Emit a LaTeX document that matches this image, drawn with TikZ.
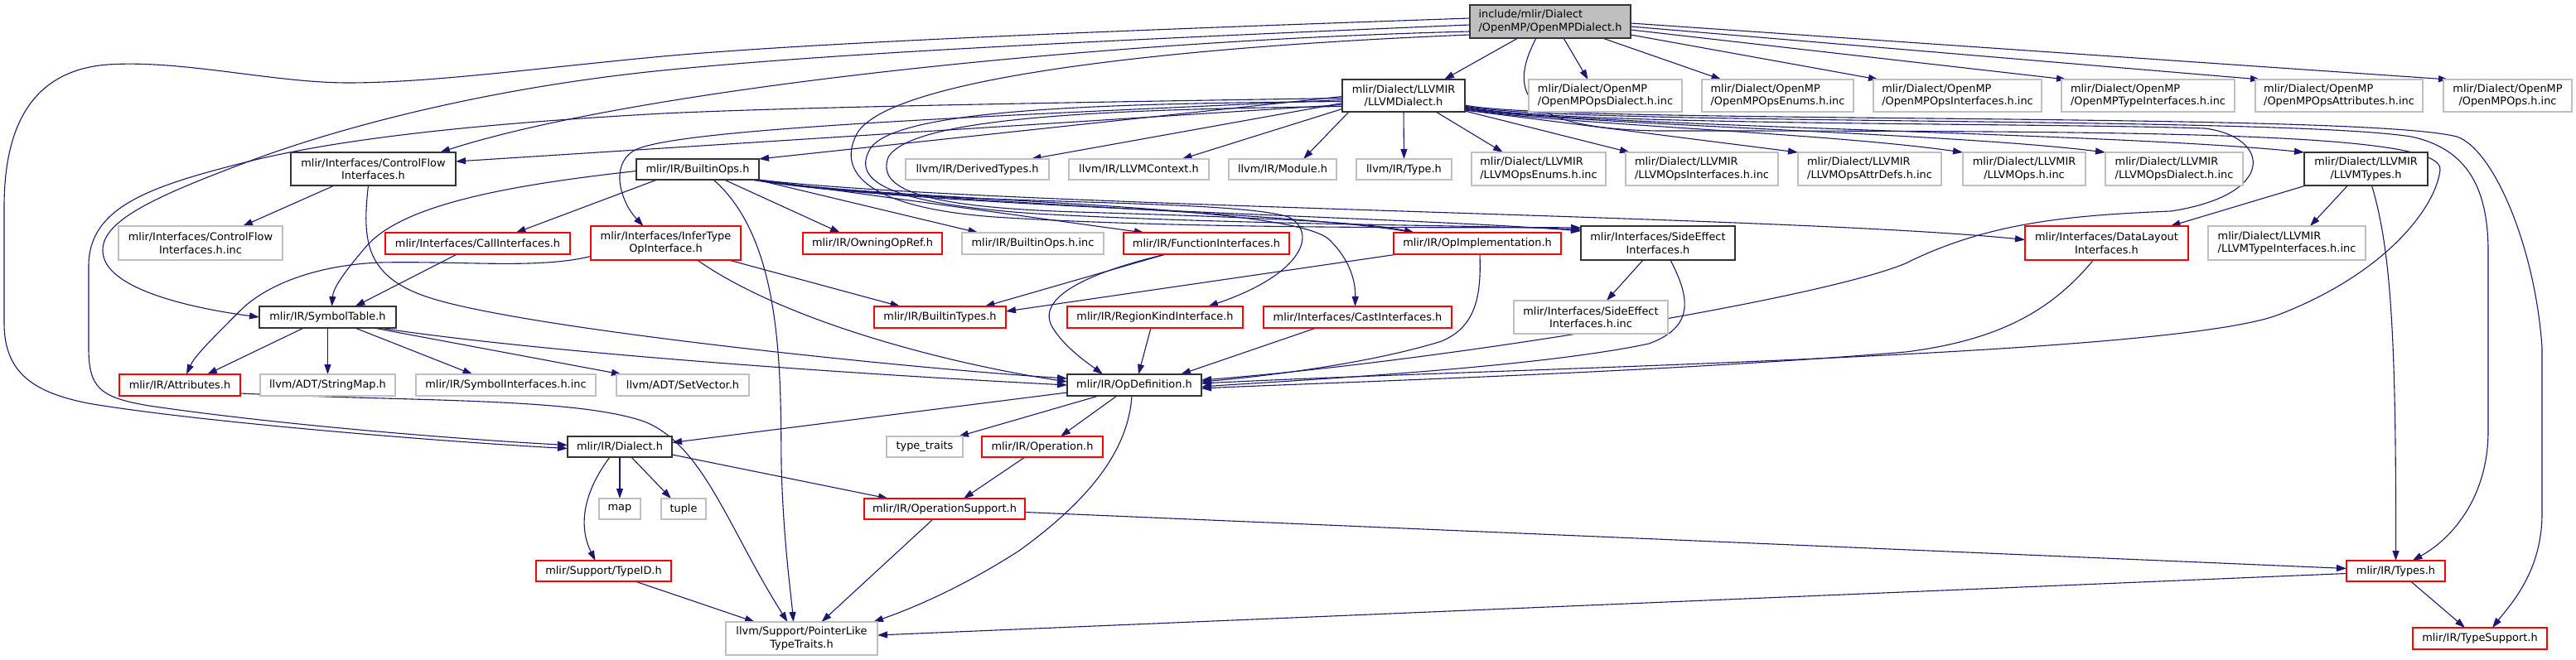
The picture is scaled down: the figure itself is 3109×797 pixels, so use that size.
\documentclass[tikz,border=0pt]{standalone}
\usepackage{fontspec}
\setmainfont{DejaVu Sans}
\usetikzlibrary{arrows.meta,calc,backgrounds}
\definecolor{edgecol}{HTML}{191970}
\definecolor{grayb}{HTML}{BFBFBF}
\definecolor{redb}{HTML}{FF0000}
\definecolor{blackb}{HTML}{333333}
\begin{document}
\begin{tikzpicture}[x=1pt,y=-1pt,
  box/.style={rectangle, inner sep=0pt, outer sep=0pt, fill=white, line width=1.2pt, font=\fontsize{12.9}{15.5}\selectfont},
  nbox/.style={box, draw=blackb, line width=1.1pt},
  gbox/.style={box, draw=grayb},
  rbox/.style={box, draw=redb},
  bw/.style={minimum width=#1pt},
  bh/.style={minimum height=#1pt},
  dep/.style={draw=edgecol, line width=1.1pt, -{Triangle[length=12pt,width=8pt]}},
]
\useasboundingbox (0,0) rectangle (3109,797);
% ---------- nodes ----------
\node[nbox, fill=grayb, bw=194, bh=40, align=left] (root) at (1871,26) {include/mlir/Dialect\\/OpenMP/OpenMPDialect.h};
\node[nbox, bw=148, bh=39, align=center] (llvmdialect) at (1694,115.5) {mlir/Dialect/LLVMIR\\/LLVMDialect.h};
\node[gbox, bw=185, bh=39, align=left] (ompdialectinc) at (1937.5,115.5) {mlir/Dialect/OpenMP\\/OpenMPOpsDialect.h.inc};
\node[gbox, bw=183, bh=39, align=left] (ompenums) at (2145.5,115.5) {mlir/Dialect/OpenMP\\/OpenMPOpsEnums.h.inc};
\node[gbox, bw=203, bh=39, align=left] (ompifaces) at (2362.5,115.5) {mlir/Dialect/OpenMP\\/OpenMPOpsInterfaces.h.inc};
\node[gbox, bw=209, bh=39, align=left] (omptypeifaces) at (2592.5,115.5) {mlir/Dialect/OpenMP\\/OpenMPTypeInterfaces.h.inc};
\node[gbox, bw=202, bh=39, align=left] (ompattrs) at (2823,115.5) {mlir/Dialect/OpenMP\\/OpenMPOpsAttributes.h.inc};
\node[gbox, bw=155, bh=39, align=center] (ompops) at (3026.5,115.5) {mlir/Dialect/OpenMP\\/OpenMPOps.h.inc};

\node[nbox, bw=199, bh=40, align=center] (cflow) at (450.5,204) {mlir/Interfaces/ControlFlow\\Interfaces.h};
\node[nbox, bw=148, bh=25] (builtinops) at (842,204.5) {mlir/IR/BuiltinOps.h};
\node[gbox, bw=173, bh=25] (derivedtypes) at (1179.5,204.5) {llvm/IR/DerivedTypes.h};
\node[gbox, bw=169, bh=25] (llvmcontext) at (1374.5,204.5) {llvm/IR/LLVMContext.h};
\node[gbox, bw=130, bh=25] (module) at (1548,204.5) {llvm/IR/Module.h};
\node[gbox, bw=115, bh=25] (type) at (1694.5,204.5) {llvm/IR/Type.h};
\node[gbox, bw=162, bh=40, align=left] (llvmopsenums) at (1857,204) {mlir/Dialect/LLVMIR\\/LLVMOpsEnums.h.inc};
\node[gbox, bw=184, bh=40, align=left] (llvmopsifaces) at (2054,204) {mlir/Dialect/LLVMIR\\/LLVMOpsInterfaces.h.inc};
\node[gbox, bw=173, bh=40, align=left] (llvmattrdefs) at (2256.5,204) {mlir/Dialect/LLVMIR\\/LLVMOpsAttrDefs.h.inc};
\node[gbox, bw=148, bh=40, align=center] (llvmops) at (2443,204) {mlir/Dialect/LLVMIR\\/LLVMOps.h.inc};
\node[gbox, bw=166, bh=40, align=left] (llvmopsdialect) at (2624,204) {mlir/Dialect/LLVMIR\\/LLVMOpsDialect.h.inc};
\node[nbox, bw=149, bh=40, align=center] (llvmtypes) at (2855.5,204) {mlir/Dialect/LLVMIR\\/LLVMTypes.h};

\node[gbox, bw=198, bh=41, align=center] (cflowinc) at (242,293.5) {mlir/Interfaces/ControlFlow\\Interfaces.h.inc};
\node[rbox, bw=223, bh=26] (callifaces) at (576.5,294) {mlir/Interfaces/CallInterfaces.h};
\node[rbox, bw=181, bh=41, align=center] (infertype) at (803.5,293.5) {mlir/Interfaces/InferType\\OpInterface.h};
\node[rbox, bw=168, bh=26] (owningopref) at (1053,294) {mlir/IR/OwningOpRef.h};
\node[gbox, bw=171, bh=26] (builtinopsinc) at (1246.5,294) {mlir/IR/BuiltinOps.h.inc};
\node[rbox, bw=200, bh=26] (funcifaces) at (1456,294) {mlir/IR/FunctionInterfaces.h};
\node[rbox, bw=202, bh=26] (opimpl) at (1783,294) {mlir/IR/OpImplementation.h};
\node[nbox, bw=186, bh=41, align=center] (sideeffect) at (2001,293.5) {mlir/Interfaces/SideEffect\\Interfaces.h};
\node[rbox, bw=197, bh=41, align=center] (datalayout) at (2542.5,293.5) {mlir/Interfaces/DataLayout\\Interfaces.h};
\node[gbox, bw=190, bh=41, align=left] (llvmtypeifacesinc) at (2760,293.5) {mlir/Dialect/LLVMIR\\/LLVMTypeInterfaces.h.inc};

\node[nbox, bw=165, bh=26] (symboltable) at (395.5,383) {mlir/IR/SymbolTable.h};
\node[rbox, bw=159, bh=26] (builtintypes) at (1134.5,383) {mlir/IR/BuiltinTypes.h};
\node[rbox, bw=212, bh=26] (regionkind) at (1394,383) {mlir/IR/RegionKindInterface.h};
\node[rbox, bw=227, bh=26] (castifaces) at (1638.5,383) {mlir/Interfaces/CastInterfaces.h};
\node[gbox, bw=186, bh=40, align=center] (sideeffectinc) at (1920,383) {mlir/Interfaces/SideEffect\\Interfaces.h.inc};

\node[rbox, bw=146, bh=26] (attributes) at (217,465) {mlir/IR/Attributes.h};
\node[gbox, bw=163, bh=26] (stringmap) at (395.5,465) {llvm/ADT/StringMap.h};
\node[gbox, bw=217, bh=26] (symbolifacesinc) at (610.5,465) {mlir/IR/SymbolInterfaces.h.inc};
\node[gbox, bw=160, bh=26] (setvector) at (824,465) {llvm/ADT/SetVector.h};
\node[nbox, bw=162, bh=26] (opdefinition) at (1369,465) {mlir/IR/OpDefinition.h};

\node[nbox, bw=126, bh=25] (dialect) at (748,539.5) {mlir/IR/Dialect.h};
\node[gbox, bw=92, bh=25] (typetraits) at (1116,539.5) {type\_traits};
\node[rbox, bw=146, bh=25] (operation) at (1258,539.5) {mlir/IR/Operation.h};

\node[gbox, bw=50, bh=25] (map) at (748,614.5) {map};
\node[gbox, bw=54, bh=25] (tuple) at (825,614.5) {tuple};
\node[rbox, bw=194, bh=25] (opsupport) at (1140,614.5) {mlir/IR/OperationSupport.h};

\node[rbox, bw=163, bh=25] (typeid) at (728.5,689.5) {mlir/Support/TypeID.h};
\node[rbox, bw=119, bh=25] (types) at (2891.5,689.5) {mlir/IR/Types.h};

\node[gbox, bw=183, bh=40, align=center] (pointerlike) at (967.5,771) {llvm/Support/PointerLike\\TypeTraits.h};
\node[rbox, bw=162, bh=26] (typesupport) at (2993,771) {mlir/IR/TypeSupport.h};

% ---------- edges ----------
\begin{scope}[on background layer]
\fill[white] (0,0) rectangle (3109,797);
% root
\draw[dep] ($(root.south)+(-39,0)$) -- ($(llvmdialect.north)+(49,0)$);
\draw[dep] ($(root.south)+(16,0)$) -- ($(ompdialectinc.north)+(-21,0)$);
\draw[dep] ($(root.south)+(63,0)$) -- ($(ompenums.north)+(-68,0)$);
\draw[dep] ($(root.south east)+(0,-4)$) -- ($(ompifaces.north west)+(6,0)$);
\draw[dep] ($(root.east)+(0,10)$) -- ($(omptypeifaces.north west)+(6,0)$);
\draw[dep] ($(root.east)+(0,6)$) -- ($(ompattrs.north west)+(6,0)$);
\draw[dep] ($(root.east)+(0,2)$) -- ($(ompops.north west)+(6,0)$);
\draw[dep] ($(root.west)+(0,12)$) .. controls (1300,50) and (760,110) .. ($(cflow.north east)+(-19,0)$);
\draw[dep] ($(root.west)+(0,4)$) .. controls (1300,50) and (1000,65) .. (800,85) .. controls (600,105) and (420,150) .. (300,195) .. controls (180,240) and (115,270) .. (125,310) .. controls (135,350) and (230,372) .. (symboltable.west);
\draw[dep] ($(root.west)+(0,-4)$) .. controls (1400,35) and (1000,50) .. (800,68) .. controls (650,82) and (520,100) .. (420,100) .. controls (330,100) and (220,72) .. (130,78) .. controls (40,85) and (5,150) .. (5,250) -- (5,390) .. controls (5,450) and (40,475) .. (112,488) .. controls (260,512) and (560,535) .. ($(dialect.west)+(0,2)$);
\draw[dep] ($(root.south)+(-17,0)$) .. controls (1815,120) and (1850,155) .. (2000,158) .. controls (2600,158) and (2950,160) .. (2945,205) .. controls (2940,250) and (2880,330) .. (2750,380) .. controls (2620,430) and (1800,445) .. ($(opdefinition.east)+(0,-2)$);
\draw[dep] ($(root.west)+(0,16)$) .. controls (1450,55) and (1080,90) .. (1035,160) .. controls (1010,205) and (1040,250) .. (1200,262) .. controls (1450,278) and (1800,274) .. ($(sideeffect.north west)+(0,2)$);
% LLVMDialect
\draw[dep] ($(llvmdialect.west)+(0,1)$) -- (builtinops.north east);
\draw[dep] ($(llvmdialect.west)+(0,5)$) .. controls (1200,140) and (810,155) .. (765,182) .. controls (735,200) and (750,245) .. ($(infertype.north)+(-27,0)$);
\draw[dep] ($(llvmdialect.west)+(0,7)$) .. controls (1350,125) and (1080,130) .. (1050,180) .. controls (1030,215) and (1060,245) .. (1250,258) .. controls (1500,272) and (1800,272) .. ($(sideeffect.north west)+(0,4)$);
\draw[dep] ($(llvmdialect.west)+(0,9)$) -- ($(derivedtypes.north)+(65,0)$);
\draw[dep] ($(llvmdialect.west)+(0,11)$) -- ($(cflow.east)+(0,-9)$);
\draw[dep] ($(llvmdialect.west)+(0,13)$) .. controls (1350,132) and (1100,140) .. (1072,190) .. controls (1058,228) and (1110,250) .. (1300,256) .. controls (1500,262) and (1650,268) .. ($(opimpl.north west)+(25,0)$);
\draw[dep] ($(llvmdialect.west)+(0,16)$) -- ($(llvmcontext.north)+(52,0)$);
\draw[dep] ($(llvmdialect.west)+(0,3)$) .. controls (1200,125) and (950,130) .. (800,137) .. controls (600,148) and (420,165) .. (300,195) .. controls (180,225) and (108,250) .. (107,320) -- (107,420) .. controls (107,468) and (120,480) .. (180,490) .. controls (350,515) and (580,532) .. ($(dialect.west)+(0,-2)$);
\draw[dep] ($(llvmdialect.south west)+(8,0)$) -- ($(module.north)+(25,0)$);
\draw[dep] (llvmdialect.south) -- (type.north);
\draw[dep] ($(llvmdialect.south)+(39,0)$) -- ($(llvmopsenums.north)+(-43,0)$);
\draw[dep] ($(llvmdialect.south east)+(0,-1)$) -- ($(llvmopsifaces.north west)+(5,0)$);
\draw[dep] ($(llvmdialect.south east)+(0,-2)$) -- (llvmattrdefs.north west);
\draw[dep] ($(llvmdialect.south east)+(0,-3)$) .. controls (1880,150) and (2200,160) .. (llvmops.north west);
\draw[dep] ($(llvmdialect.south east)+(0,-4)$) .. controls (1880,150) and (2350,160) .. (llvmopsdialect.north west);
\draw[dep] ($(llvmdialect.south east)+(0,-5)$) .. controls (1880,152) and (2550,160) .. (llvmtypes.north west);
\draw[dep] ($(llvmdialect.south east)+(0,-6)$) .. controls (1880,152) and (2450,148) .. (2661,155) .. controls (2740,165) and (2750,235) .. (2620,255) .. controls (2500,260) and (2400,268) .. (2300,318) .. controls (2200,360) and (1750,435) .. ($(opdefinition.east)+(0,-6)$);
\draw[dep] ($(llvmdialect.south east)+(0,-7)$) .. controls (1880,152) and (2750,140) .. (2910,165) .. controls (2980,180) and (3002,230) .. (3003,300) -- (3003,520) .. controls (3003,600) and (2960,650) .. ($(types.north)+(20,0)$);
\draw[dep] ($(llvmdialect.south east)+(0,-8)$) .. controls (1880,150) and (2850,135) .. (2965,165) .. controls (3010,180) and (3060,300) .. (3068,420) -- (3068,620) .. controls (3068,690) and (3030,730) .. ($(typesupport.north)+(15,0)$);
% ControlFlow
\draw[dep] ($(cflow.south)+(-47,0)$) -- ($(cflowinc.north)+(51,0)$);
\draw[dep] ($(cflow.south)+(-6,0)$) .. controls (437,290) and (440,335) .. (520,360) .. controls (640,398) and (1100,445) .. ($(opdefinition.west)+(0,-8)$);
% BuiltinOps
\draw[dep] ($(builtinops.west)+(0,2)$) .. controls (600,225) and (480,250) .. (440,300) .. controls (410,335) and (402,350) .. ($(symboltable.north)+(5,0)$);
\draw[dep] ($(builtinops.south west)+(25,0)$) -- ($(callifaces.north)+(46,0)$);
\draw[dep] ($(builtinops.south)+(19,0)$) .. controls (945,290) and (942,450) .. (943,560) .. controls (945,650) and (955,720) .. ($(pointerlike.north)+(-10,0)$);
\draw[dep] ($(builtinops.south)+(32,0)$) -- ($(owningopref.north)+(-39,0)$);
\draw[dep] ($(builtinops.south east)+(-3,0)$) -- ($(builtinopsinc.north)+(-66,0)$);
\draw[dep] (builtinops.south east) -- ($(funcifaces.north)+(-75,0)$);
\draw[dep] ($(builtinops.south east)+(-6,0)$) .. controls (1100,245) and (1550,255) .. ($(opimpl.north west)+(25,0)$);
\draw[dep] ($(builtinops.south east)+(-4,0)$) .. controls (1100,250) and (1700,262) .. ($(sideeffect.north west)+(0,6)$);
\draw[dep] ($(builtinops.south east)+(-8,0)$) .. controls (1100,250) and (1480,238) .. (1555,262) .. controls (1590,280) and (1575,330) .. ($(regionkind.north)+(64,0)$);
\draw[dep] ($(builtinops.south east)+(-10,0)$) .. controls (1100,245) and (1560,245) .. (1605,290) .. controls (1630,315) and (1636,340) .. ($(castifaces.north)+(-3,0)$);
\draw[dep] ($(builtinops.south east)+(-2,0)$) .. controls (1200,250) and (2150,260) .. ($(datalayout.west)+(0,-4)$);
% row 3
\draw[dep] ($(callifaces.south)+(-25,0)$) -- ($(symboltable.north)+(33,0)$);
\draw[dep] ($(infertype.south)+(76,0)$) -- ($(builtintypes.north)+(-48,0)$);
\draw[dep] ($(infertype.south)+(38,0)$) .. controls (950,390) and (1150,440) .. ($(opdefinition.west)+(0,-4)$);
\draw[dep] ($(infertype.west)+(0,16)$) .. controls (650,325) and (560,315) .. (459,317) .. controls (380,320) and (320,345) .. (290,375) .. controls (255,410) and (235,430) .. ($(attributes.north)+(8,0)$);
\draw[dep] ($(funcifaces.south)+(-49,0)$) -- ($(builtintypes.north)+(54,0)$);
\draw[dep] ($(funcifaces.south)+(-49,0)$) .. controls (1310,330) and (1250,360) .. (1270,395) .. controls (1285,420) and (1315,440) .. ($(opdefinition.north)+(-38,0)$);
\draw[dep] ($(opimpl.south west)+(5,0)$) -- ($(builtintypes.east)+(0,-7)$);
\draw[dep] ($(opimpl.south)+(3,0)$) .. controls (1788,360) and (1780,395) .. (1740,412) .. controls (1650,440) and (1520,455) .. ($(opdefinition.east)+(0,-4)$);
\draw[dep] ($(sideeffect.south)+(-18,0)$) -- ($(sideeffectinc.north)+(19,0)$);
\draw[dep] ($(sideeffect.south)+(15,0)$) .. controls (2040,360) and (2045,395) .. (1990,415) .. controls (1850,445) and (1550,460) .. ($(opdefinition.east)+(0,2)$);
\draw[dep] ($(datalayout.south)+(-16,0)$) .. controls (2480,370) and (2420,410) .. (2300,425) .. controls (2000,450) and (1600,462) .. ($(opdefinition.east)+(0,4)$);
\draw[dep] ($(llvmtypes.south west)+(2,0)$) -- ($(datalayout.north)+(77,0)$);
\draw[dep] ($(llvmtypes.south)+(-22,0)$) -- ($(llvmtypeifacesinc.north)+(28,0)$);
\draw[dep] ($(llvmtypes.south)+(7,0)$) .. controls (2885,300) and (2892,400) .. (types.north);
% row 4
\draw[dep] ($(castifaces.south)+(-50,0)$) -- ($(opdefinition.north east)+(-25,0)$);
\draw[dep] ($(regionkind.south)+(-5,0)$) -- ($(opdefinition.north)+(5,0)$);
\draw[dep] ($(symboltable.south)+(-29,0)$) -- ($(attributes.north)+(33,0)$);
\draw[dep] (symboltable.south) -- (stringmap.north);
\draw[dep] ($(symboltable.south)+(33,0)$) -- ($(symbolifacesinc.north)+(-40,0)$);
\draw[dep] ($(symboltable.south east)+(-27,0)$) -- ($(setvector.north west)+(6,0)$);
\draw[dep] ($(symboltable.south east)+(-20,0)$) .. controls (650,425) and (1000,450) .. (opdefinition.west);
% row 5
\draw[dep] ($(attributes.east)+(0,10)$) .. controls (500,485) and (700,480) .. (780,510) .. controls (850,540) and (880,640) .. ($(pointerlike.north)+(-17,0)$);
\draw[dep] ($(opdefinition.west)+(0,9)$) -- ($(dialect.east)+(0,-5)$);
\draw[dep] ($(opdefinition.south)+(-43,0)$) -- ($(typetraits.north east)+(-5,0)$);
\draw[dep] ($(opdefinition.south)+(-21,0)$) -- ($(operation.north)+(22,0)$);
\draw[dep] ($(opdefinition.south)+(-3,0)$) .. controls (1362,540) and (1320,600) .. (1230,665) .. controls (1160,710) and (1100,735) .. ($(pointerlike.north east)+(-5,0)$);
% lower rows
\draw[dep] (dialect.south) -- (map.north);
\draw[dep] ($(dialect.south)+(14,0)$) -- ($(tuple.north)+(-15,0)$);
\draw[dep] ($(dialect.south)+(-12,0)$) .. controls (700,600) and (700,640) .. ($(typeid.north)+(-10,0)$);
\draw[dep] ($(dialect.south east)+(0,-3)$) -- ($(opsupport.north)+(-68,0)$);
\draw[dep] ($(operation.south)+(-21,0)$) -- ($(opsupport.north)+(23,0)$);
\draw[dep] ($(opsupport.south)+(-14,0)$) -- ($(pointerlike.north)+(24,0)$);
\draw[dep] ($(opsupport.east)+(0,4)$) -- ($(types.west)+(0,-3)$);
\draw[dep] ($(typeid.south)+(38,0)$) -- ($(pointerlike.north west)+(35,0)$);
\draw[dep] ($(types.west)+(0,3)$) -- ($(pointerlike.east)+(0,-4)$);
\draw[dep] ($(types.south)+(18,0)$) -- ($(typesupport.north)+(-18,0)$);
\end{scope}
\end{tikzpicture}
\end{document}
